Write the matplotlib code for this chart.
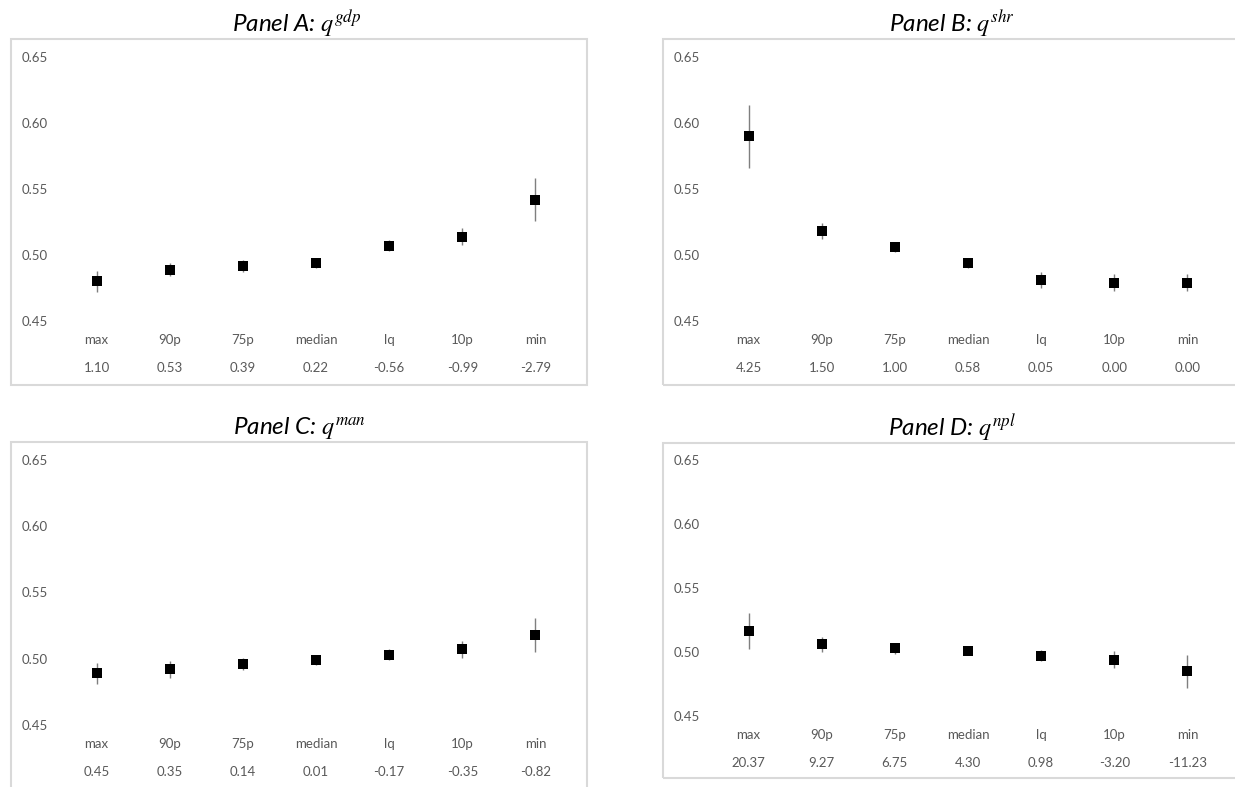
import matplotlib
matplotlib.use("Agg")
import matplotlib.pyplot as plt
from matplotlib.patches import Rectangle

# ── Data ─────────────────────────────────────
categories = ["max", "90p", "75p", "median", "lq", "10p", "min"]

vals_gdp = [1.10, 0.53, 0.39, 0.22, -0.56, -0.99, -2.79]
vals_shr = [4.25, 1.50, 1.00, 0.58, 0.05, 0.00, 0.00]
vals_man = [0.45, 0.35, 0.14, 0.01, -0.17, -0.35, -0.82]
vals_npl = [20.37, 9.27, 6.75, 4.30, 0.98, -3.20, -11.23]

est_gdp = [0.480, 0.489, 0.492, 0.494, 0.507, 0.514, 0.542]
err_gdp = [0.008, 0.005, 0.0045, 0.004, 0.0042, 0.0063, 0.016]

est_shr = [0.590, 0.518, 0.506, 0.494, 0.481, 0.479, 0.479]
err_shr = [0.024, 0.006, 0.004, 0.0035, 0.006, 0.0063, 0.0063]

est_man = [0.489, 0.492, 0.496, 0.499, 0.503, 0.507, 0.518]
err_man = [0.0077, 0.0066, 0.0044, 0.0034, 0.0043, 0.0063, 0.013]

est_npl = [0.5165, 0.506, 0.503, 0.501, 0.497, 0.494, 0.485]
err_npl = [0.0143, 0.006, 0.0043, 0.0033, 0.0044, 0.0066, 0.0128]

yticks = [0.45, 0.50, 0.55, 0.60, 0.65]

# ── Layout (pixels) ──────────────────────────
W, H = 1235, 787
panels = [
    # title, est, err, values, border box, plot box, title pos
    ("Panel A: $q^{gdp}$", est_gdp, err_gdp, vals_gdp, (11, 39, 587, 385), (60, 57, 572, 321), (297, 24)),
    ("Panel B: $q^{shr}$", est_shr, err_shr, vals_shr, (663, 39, 1240, 385), (712, 57, 1224, 321), (952, 24)),
    ("Panel C: $q^{man}$", est_man, err_man, vals_man, (11, 442, 587, 800), (60, 460, 572, 725), (299, 428)),
    ("Panel D: $q^{npl}$", est_npl, err_npl, vals_npl, (663, 443, 1240, 778), (712, 460, 1224, 716), (952, 428)),
]

plt.rcParams["font.family"] = ["Lato", "DejaVu Sans"]
plt.rcParams["mathtext.fontset"] = "stix"

grey = "#595959"

fig = plt.figure(figsize=(W / 100, H / 100), dpi=100)

for title, est, err, vals, border, box, tpos in panels:
    bx0, by0, bx1, by1 = border
    fig.add_artist(Rectangle((bx0 / W, 1 - by1 / H), (bx1 - bx0) / W, (by1 - by0) / H,
                             transform=fig.transFigure, fill=False,
                             edgecolor="#d9d9d9", lw=1.5))

    x0, y0, x1, y1 = box
    ax = fig.add_axes([x0 / W, 1 - y1 / H, (x1 - x0) / W, (y1 - y0) / H])
    xs = list(range(len(categories)))
    ax.errorbar(xs, est, yerr=err, fmt="s", color="black", ecolor="#7f7f7f",
                elinewidth=1, capsize=0, markersize=7, markeredgewidth=0)

    ax.set_xlim(-0.5, len(categories) - 0.5)
    ax.set_ylim(0.45, 0.65)
    ax.set_yticks(yticks)
    ax.set_yticklabels([f"{t:.2f}" for t in yticks])
    ax.set_xticks([])
    for s in ax.spines.values():
        s.set_visible(False)
    ax.tick_params(axis="y", length=0, pad=9, labelsize=9.5, labelcolor=grey)
    ax.patch.set_alpha(0)

    for i, (c, v) in enumerate(zip(categories, vals)):
        ax.annotate(c, xy=(i, 0), xycoords=("data", "axes fraction"),
                    xytext=(0, -14), textcoords="offset points",
                    ha="center", va="center", fontsize=9.5, color=grey)
        ax.annotate(f"{v:.2f}", xy=(i, 0), xycoords=("data", "axes fraction"),
                    xytext=(0, -34), textcoords="offset points",
                    ha="center", va="center", fontsize=9.5, color=grey)

    fig.text(tpos[0] / W, 1 - tpos[1] / H, title, ha="center", va="center",
             fontsize=17.5, style="italic", color="black")

fig.savefig("out.png", dpi=100)
